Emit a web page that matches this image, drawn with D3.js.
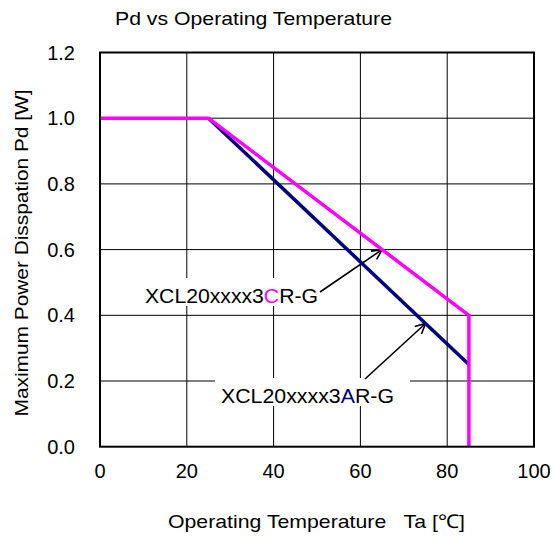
<!DOCTYPE html>
<html>
<head>
<meta charset="utf-8">
<script src="https://cdn.jsdelivr.net/npm/d3@7"></script>
<style>
  body { margin: 0; background: #fff; }
  text { font-family: "Liberation Sans", Arial, sans-serif; fill: #000; }
</style>
</head>
<body>
<div id="chart"></div>
<script>
// chart data
const xTicks = [0, 20, 40, 60, 80, 100];
const yTicks = [0.0, 0.2, 0.4, 0.6, 0.8, 1.0, 1.2];
const seriesA = [[25, 1.0], [85, 0.25]];                 // XCL20xxxx3AR-G
const seriesC = [[0, 1.0], [25, 1.0], [85, 0.4], [85, 0]]; // XCL20xxxx3CR-G
const labels = [
    { pre: "XCL20xxxx3", key: "C", post: "R-G", color: "#ff00ff", tx: 145, ty: 303, from: [320, 292], to: [65, 0.6] },
    { pre: "XCL20xxxx3", key: "A", post: "R-G", color: "#000080", tx: 221, ty: 403, from: [365, 379], to: [75, 0.375] }
];

const width = 553, height = 537;
const plot = { left: 100, top: 52.5, right: 534, bottom: 446.7 };

const svg = d3.select("#chart").append("svg")
    .attr("width", width)
    .attr("height", height);

const x = d3.scaleLinear().domain([0, 100]).range([plot.left, plot.right]);
const y = d3.scaleLinear().domain([0, 1.2]).range([plot.bottom, plot.top]);

// gridlines
svg.append("g")
    .selectAll("line.vgrid")
    .data(xTicks.slice(1, -1))
    .join("line")
    .attr("x1", d => x(d)).attr("x2", d => x(d))
    .attr("y1", plot.top).attr("y2", plot.bottom)
    .attr("stroke", "#000").attr("stroke-width", 1);

svg.append("g")
    .selectAll("line.hgrid")
    .data(yTicks.slice(1, -1))
    .join("line")
    .attr("x1", plot.left).attr("x2", plot.right)
    .attr("y1", d => y(d)).attr("y2", d => y(d))
    .attr("stroke", "#000").attr("stroke-width", 1);

// tick labels
svg.append("g")
    .selectAll("text")
    .data(yTicks)
    .join("text")
    .attr("x", 75)
    .attr("y", d => y(d) + 7)
    .attr("text-anchor", "end")
    .style("font-size", "20px")
    .text(d => d.toFixed(1));

svg.append("g")
    .selectAll("text")
    .data(xTicks)
    .join("text")
    .attr("x", d => x(d))
    .attr("y", 478)
    .attr("text-anchor", "middle")
    .style("font-size", "20px")
    .text(d => d);

// label boxes (white background, hide gridlines)
const labelG = svg.append("g");
labels.forEach(l => {
    const t = labelG.append("text")
        .attr("x", l.tx)
        .attr("y", l.ty)
        .style("font-size", "20px")
        .attr("textLength", 173)
        .attr("lengthAdjust", "spacingAndGlyphs");
    t.append("tspan").text(l.pre);
    t.append("tspan").style("fill", l.color).text(l.key);
    t.append("tspan").text(l.post);
    const bb = t.node().getBBox();
    labelG.insert("rect", "text")
        .attr("x", bb.x - 6)
        .attr("y", l.ty - 25)
        .attr("width", bb.width + 22)
        .attr("height", 28)
        .attr("fill", "#fff");
});

// arrows
svg.append("defs").append("marker")
    .attr("id", "arrow")
    .attr("viewBox", "0 0 12 12")
    .attr("refX", 11).attr("refY", 6)
    .attr("markerWidth", 12).attr("markerHeight", 12)
    .attr("markerUnits", "userSpaceOnUse")
    .attr("orient", "auto")
    .append("path")
    .attr("d", "M1,1 L11,6 L1,11")
    .attr("fill", "none")
    .attr("stroke", "#000")
    .attr("stroke-width", 1.6);

svg.append("g")
    .selectAll("line")
    .data(labels)
    .join("line")
    .attr("x1", d => d.from[0]).attr("y1", d => d.from[1])
    .attr("x2", d => x(d.to[0])).attr("y2", d => y(d.to[1]))
    .attr("stroke", "#000").attr("stroke-width", 1.6)
    .attr("marker-end", "url(#arrow)");

// series lines
const line = d3.line().x(d => x(d[0])).y(d => y(d[1]));

svg.append("path")
    .datum(seriesA)
    .attr("d", line)
    .attr("fill", "none")
    .attr("stroke", "#000080")
    .attr("stroke-width", 3.5);

svg.append("path")
    .datum(seriesC)
    .attr("d", line)
    .attr("fill", "none")
    .attr("stroke", "#ff00ff")
    .attr("stroke-width", 3.5)
    .attr("stroke-linejoin", "miter");

// frame
svg.append("rect")
    .attr("x", plot.left).attr("y", plot.top)
    .attr("width", plot.right - plot.left)
    .attr("height", plot.bottom - plot.top)
    .attr("fill", "none")
    .attr("stroke", "#000").attr("stroke-width", 2);

// titles
svg.append("text")
    .attr("x", 115).attr("y", 25)
    .style("font-size", "19px")
    .attr("textLength", 277)
    .attr("lengthAdjust", "spacingAndGlyphs")
    .text("Pd vs Operating Temperature");

svg.append("text")
    .attr("x", 168).attr("y", 528)
    .style("font-size", "19px")
    .attr("textLength", 297)
    .attr("lengthAdjust", "spacingAndGlyphs")
    .text("Operating Temperature\u00a0\u00a0 Ta [\u2103]");

svg.append("text")
    .attr("transform", "translate(28,253) rotate(-90)")
    .attr("text-anchor", "middle")
    .style("font-size", "19px")
    .attr("textLength", 327)
    .attr("lengthAdjust", "spacingAndGlyphs")
    .text("Maximum Power Disspation Pd [W]");
</script>
</body>
</html>
